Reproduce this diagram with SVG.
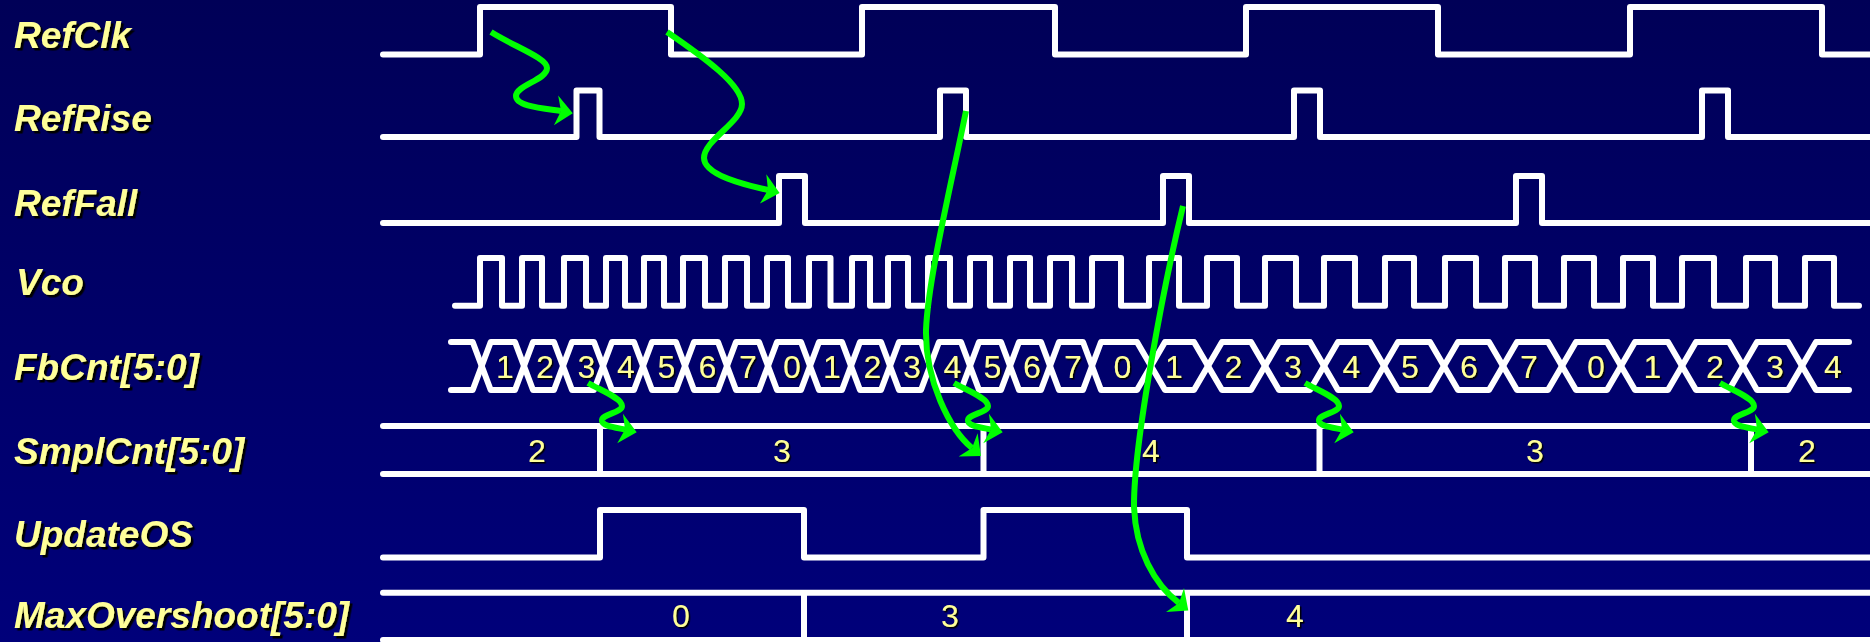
<svg xmlns="http://www.w3.org/2000/svg" xmlns:xlink="http://www.w3.org/1999/xlink" width="1870" height="642" viewBox="0 0 1870 642">
<defs>
<linearGradient id="bg" x1="0" y1="0" x2="0" y2="1"><stop offset="0" stop-color="#000057"/><stop offset="1" stop-color="#00007a"/></linearGradient>
<filter id="s1" x="-10%" y="-10%" width="120%" height="130%"><feDropShadow dx="2.5" dy="2.5" stdDeviation="0.4" flood-color="#000"/></filter>
<filter id="s2" x="-20%" y="-20%" width="150%" height="150%"><feDropShadow dx="1.5" dy="1.5" stdDeviation="0.3" flood-color="#000"/></filter>
<marker id="ah" markerUnits="userSpaceOnUse" markerWidth="22" markerHeight="34" refX="5" refY="15" orient="auto" overflow="visible"><path d="M0 0 L17 15.5 L0 30 L5 15 Z" fill="#00ff00"/></marker>
</defs>
<style>
.w{fill:none;stroke:#fff;stroke-width:6;stroke-linejoin:round;stroke-linecap:round}
.g{fill:none;stroke:#00ff00;stroke-width:6;marker-end:url(#ah)}
.l{font:italic bold 37px "Liberation Sans",Arial,sans-serif;fill:#ffff99;filter:url(#s1)}
.d{font:32px "Liberation Sans",Arial,sans-serif;fill:#ffff99;text-anchor:middle;filter:url(#s2)}
</style>
<rect width="1870" height="642" fill="url(#bg)"/>
<g id="RefClk"><text class="l" x="14" y="48">RefClk</text>
<path class="w" d="M383 54.5H480V7H671V54.5H862V7H1055V54.5H1246V7H1438V54.5H1630V7H1822V54.5H1872"/></g>
<g id="RefRise"><text class="l" x="14" y="130.5">RefRise</text>
<path class="w" d="M383 137H576.5V90.5H599.5V137H940V90.5H966V137H1294V90.5H1320V137H1702V90.5H1728V137H1872"/></g>
<g id="RefFall"><text class="l" x="14" y="216">RefFall</text>
<path class="w" d="M383 223H779V176H805V223H1163V176H1189V223H1516V176H1542V223H1872"/></g>
<g id="Vco"><text class="l" x="16" y="295">Vco</text>
<path class="w" d="M455 305.7H480V258H502V305.7H522V258H542V305.7H564V258H586V305.7H606V258H625V305.7H644V258H664V305.7H683V258H705V305.7H725V258H747V305.7H767V258H788V305.7H809V258H830.5V305.7H852V258H870V305.7H888V258H908V305.7H928V258H950V305.7H970V258H990V305.7H1010V258H1030V305.7H1050V258H1072V305.7H1092V258H1121V305.7H1149V258H1179V305.7H1207V258H1237V305.7H1265V258H1296V305.7H1324V258H1355V305.7H1385V258H1414V305.7H1445V258H1476V305.7H1505V258H1535V305.7H1564V258H1594V305.7H1623V258H1653V305.7H1682V258H1714V305.7H1746V258H1775V305.7H1805V258H1834V305.7H1859"/></g>
<g id="FbCnt"><text class="l" x="14" y="380">FbCnt[5:0]</text>
<path id="wave" class="w" d="M451 342H472.7L490.7 390H515L533 342H554L572 390H594L612 342H634L652 390H676L694 342H718L736 390H759L777 342H801L819 390H842L860 342H881L899 390H921L939 342H961L979 390H1001L1019 342H1041L1059 390H1083L1101 342H1137L1165 390H1194L1222 342H1251L1279 390H1310L1338 342H1370L1398 390H1430L1458 342H1489L1517 390H1548L1576 342H1607L1635 390H1668L1696 342H1729L1757 390H1788L1816 342H1849"/>
<use xlink:href="#wave" href="#wave" transform="translate(0,732) scale(1,-1)"/>
<g>
<text class="d" x="505" y="378">1</text><text class="d" x="545" y="378">2</text><text class="d" x="586.5" y="378">3</text><text class="d" x="626" y="378">4</text><text class="d" x="666.5" y="378">5</text><text class="d" x="707.5" y="378">6</text><text class="d" x="748" y="378">7</text><text class="d" x="792" y="378">0</text><text class="d" x="832" y="378">1</text><text class="d" x="872.5" y="378">2</text><text class="d" x="912" y="378">3</text><text class="d" x="952.5" y="378">4</text><text class="d" x="992.5" y="378">5</text><text class="d" x="1032" y="378">6</text><text class="d" x="1073" y="378">7</text><text class="d" x="1122.5" y="378">0</text><text class="d" x="1174" y="378">1</text><text class="d" x="1233.5" y="378">2</text><text class="d" x="1293" y="378">3</text><text class="d" x="1351.5" y="378">4</text><text class="d" x="1410" y="378">5</text><text class="d" x="1469" y="378">6</text><text class="d" x="1529" y="378">7</text><text class="d" x="1596" y="378">0</text><text class="d" x="1652.5" y="378">1</text><text class="d" x="1715" y="378">2</text><text class="d" x="1775" y="378">3</text><text class="d" x="1833" y="378">4</text>
</g></g>
<g id="SmplCnt"><text class="l" x="14" y="464">SmplCnt[5:0]</text>
<path class="w" d="M383 426H1872M383 474H1872M600 426V474M983.5 426V474M1319.5 426V474M1751 426V474"/>
<text class="d" x="537" y="461.5">2</text><text class="d" x="782" y="461.5">3</text><text class="d" x="1151" y="461.5">4</text><text class="d" x="1535" y="461.5">3</text><text class="d" x="1807" y="461.5">2</text></g>
<g id="UpdateOS"><text class="l" x="14" y="547">UpdateOS</text>
<path class="w" d="M383 557.5H600V510H804V557.5H983.5V510H1187V557.5H1872"/></g>
<g id="MaxOvershoot"><text class="l" x="14" y="628">MaxOvershoot[5:0]</text>
<path class="w" d="M383 592.7H1872M383 640H1872M804 592.7V640M1187 592.7V640"/>
<text class="d" x="681" y="626.5">0</text><text class="d" x="950" y="626.5">3</text><text class="d" x="1295" y="626.5">4</text></g>
<g id="connectors">
<path class="g" d="M491 32C515 47 547 58 547 68C547 80 516 85 516 96C516 106 540 108 561 111"/>
<path class="g" d="M667 32C705 58 742 85 742 104C742 122 704 140 704 158C704 175 745 185 768 190"/>
<path class="g" d="M966 111C950 190 928 280 926 330C925 380 950 430 972 448"/>
<path class="g" d="M1183 206C1165 280 1134 440 1134 505C1135 550 1155 585 1179 603"/>
<path class="g" d="M588 383C600 390 622 398 622 406C622 413 601 414 602 421C603 426 612 427 625 429.5"/>
<path class="g" d="M954 383C966 390 988 398 988 406C988 413 967 414 968 421C969 426 978 427 991 429.5"/>
<path class="g" d="M1305 383C1317 390 1339 398 1339 406C1339 413 1318 414 1319 421C1320 426 1329 427 1342 429.5"/>
<path class="g" d="M1720 383C1732 390 1754 398 1754 406C1754 413 1733 414 1734 421C1735 426 1744 427 1757 429.5"/>
</g>
</svg>
